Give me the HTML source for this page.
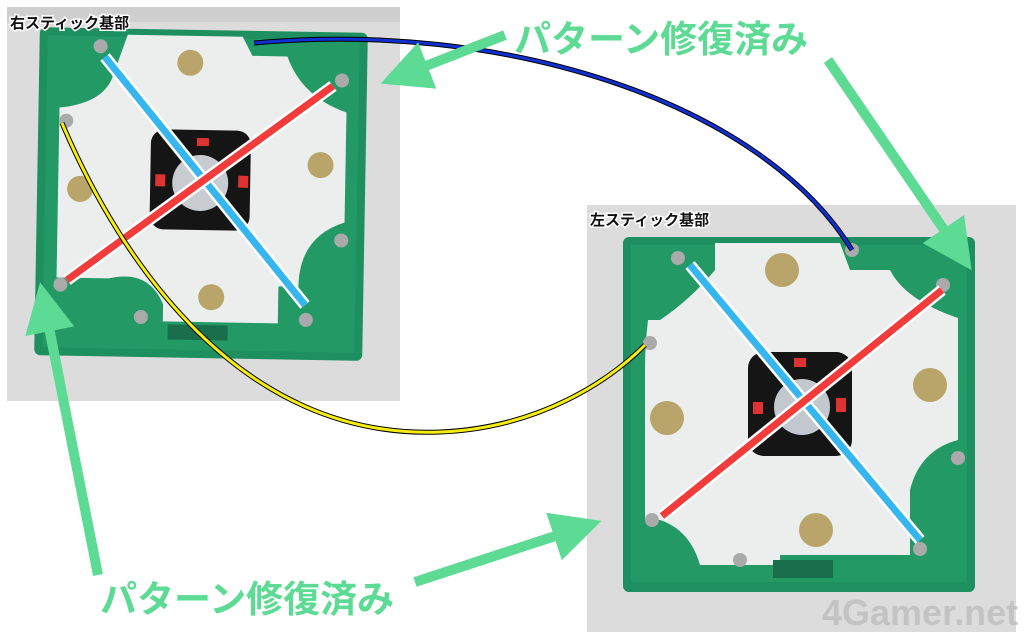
<!DOCTYPE html>
<html><head><meta charset="utf-8"><style>
html,body{margin:0;padding:0;background:#fff;width:1024px;height:640px;overflow:hidden}
svg{display:block}
</style></head><body>
<svg width="1024" height="640" viewBox="0 0 1024 640" xmlns="http://www.w3.org/2000/svg">
<defs>
<marker id="ah" viewBox="0 0 10 10" refX="8" refY="5" markerWidth="5" markerHeight="5" orient="auto"><path d="M0,0 L10,5 L0,10 z" fill="#5ddb94"/></marker>
</defs>
<!-- left photo -->
<rect x="7" y="7" width="393" height="394" fill="#dcdcdc"/>
<rect x="7" y="7" width="393" height="15" fill="#cfcfcf"/>
<g transform="rotate(1 200 195)">
<rect x="37" y="30" width="328" height="328" rx="6" fill="#1e8f5e"/>
<rect x="45" y="38" width="312" height="312" fill="#239a66"/>
<path d="M125,36 H240 L250,55 H285 Q300,95 345,110 V220 Q300,235 300,285 H280 V322 H165 V305 Q150,270 110,280 H58 V250 Q58,215 58,180 V110 Q100,105 110,80 Z" fill="#eceeed"/>
<rect x="150" y="130" width="100" height="100" rx="14" fill="#151515"/>
<circle cx="200" cy="183" r="28" fill="#c8ccd0"/>
<rect x="155" y="175" width="10" height="12" fill="#d33"/><rect x="238" y="175" width="10" height="12" fill="#d33"/><rect x="196" y="138" width="12" height="8" fill="#d33"/>
<circle cx="188" cy="63" r="13" fill="#b9a46a"/><circle cx="320" cy="163" r="13" fill="#b9a46a"/><circle cx="80" cy="191" r="13" fill="#b9a46a"/><circle cx="213" cy="297" r="13" fill="#b9a46a"/>
<circle cx="98" cy="48" r="7" fill="#aaa"/><circle cx="340" cy="78" r="7" fill="#aaa"/><circle cx="65" cy="123" r="7" fill="#aaa"/><circle cx="62" cy="287" r="7" fill="#aaa"/><circle cx="308" cy="318" r="7" fill="#aaa"/><circle cx="342" cy="238" r="7" fill="#aaa"/><circle cx="143" cy="318" r="7" fill="#aaa"/>
<rect x="170" y="325" width="60" height="15" fill="#1a6e4b"/>
</g>
<!-- right photo -->
<rect x="587" y="205" width="429" height="427" fill="#dcdcdc"/>
<rect x="623" y="237" width="352" height="355" rx="6" fill="#1e8f5e"/>
<rect x="631" y="245" width="336" height="337" fill="#239a66"/>
<path d="M715,243 H840 L850,270 H890 Q905,300 958,318 V440 Q920,450 910,490 V555 H780 V565 H700 Q690,530 660,520 H645 V370 Q645,345 648,320 H660 Q690,300 715,270 Z" fill="#eceeed"/>
<rect x="748" y="352" width="104" height="104" rx="16" fill="#151515"/>
<circle cx="802" cy="407" r="28" fill="#c3c8ce"/>
<rect x="753" y="402" width="10" height="12" fill="#d33"/><rect x="836" y="398" width="10" height="14" fill="#d33"/><rect x="794" y="358" width="12" height="9" fill="#d33"/>
<circle cx="782" cy="270" r="17" fill="#b9a46a"/><circle cx="930" cy="385" r="17" fill="#b9a46a"/><circle cx="667" cy="418" r="17" fill="#b9a46a"/><circle cx="816" cy="530" r="17" fill="#b9a46a"/>
<circle cx="678" cy="258" r="7" fill="#aaa"/><circle cx="943" cy="285" r="7" fill="#aaa"/><circle cx="650" cy="343" r="7" fill="#aaa"/><circle cx="652" cy="520" r="7" fill="#aaa"/><circle cx="920" cy="549" r="7" fill="#aaa"/><circle cx="958" cy="458" r="7" fill="#aaa"/><circle cx="740" cy="560" r="7" fill="#aaa"/><circle cx="852" cy="250" r="7" fill="#aaa"/>
<rect x="773" y="560" width="60" height="18" fill="#1a6e4b"/>
<text x="822" y="625" font-family="Liberation Sans,sans-serif" font-size="36" font-weight="bold" fill="#bdbdbd" fill-opacity="0.8">4Gamer.net</text>
<!-- cross lines -->
<g stroke-linecap="butt">
<line x1="105" y1="57" x2="305" y2="305" stroke="#fff" stroke-width="12"/><line x1="105" y1="57" x2="305" y2="305" stroke="#36b6ef" stroke-width="7"/>
<line x1="333" y1="86" x2="67" y2="280" stroke="#fff" stroke-width="12"/><line x1="333" y1="86" x2="67" y2="280" stroke="#f23b3b" stroke-width="7"/>
<line x1="690" y1="265" x2="920" y2="540" stroke="#fff" stroke-width="12"/><line x1="690" y1="265" x2="920" y2="540" stroke="#36b6ef" stroke-width="7"/>
<line x1="942" y1="290" x2="662" y2="516" stroke="#fff" stroke-width="12"/><line x1="942" y1="290" x2="662" y2="516" stroke="#f23b3b" stroke-width="7"/>
</g>
<!-- wires -->
<path d="M254,43 C500,20 760,100 852,250" fill="none" stroke="#000" stroke-width="5"/>
<path d="M254,43 C500,20 760,100 852,250" fill="none" stroke="#1030d0" stroke-width="3"/>
<path d="M62,123 C120,260 240,440 440,432 C540,428 610,380 645,345" fill="none" stroke="#000" stroke-width="5"/>
<path d="M62,123 C120,260 240,440 440,432 C540,428 610,380 645,345" fill="none" stroke="#f5ee10" stroke-width="3"/>
<!-- arrows -->
<g stroke="#5ddb94" stroke-width="10" marker-end="url(#ah)">
<line x1="505" y1="35" x2="390" y2="80"/>
<line x1="828" y1="60" x2="966" y2="262"/>
<line x1="98" y1="575" x2="42" y2="292"/>
<line x1="415" y1="582" x2="592" y2="524"/>
</g>
<!-- labels -->
<g font-family="Liberation Sans,'Noto Sans CJK JP',sans-serif" font-weight="bold">
<text x="10" y="28" font-size="15" fill="#111" stroke="#fff" stroke-width="3" paint-order="stroke">右スティック基部</text>
<text x="590" y="225" font-size="15" fill="#111" stroke="#fff" stroke-width="3" paint-order="stroke">左スティック基部</text>
<text x="514" y="52" font-size="37" fill="#5ddb94" stroke="#fff" stroke-width="3" paint-order="stroke">パターン修復済み</text>
<text x="100" y="612" font-size="37" fill="#5ddb94" stroke="#fff" stroke-width="3" paint-order="stroke">パターン修復済み</text>
</g>
</svg>
</body></html>
